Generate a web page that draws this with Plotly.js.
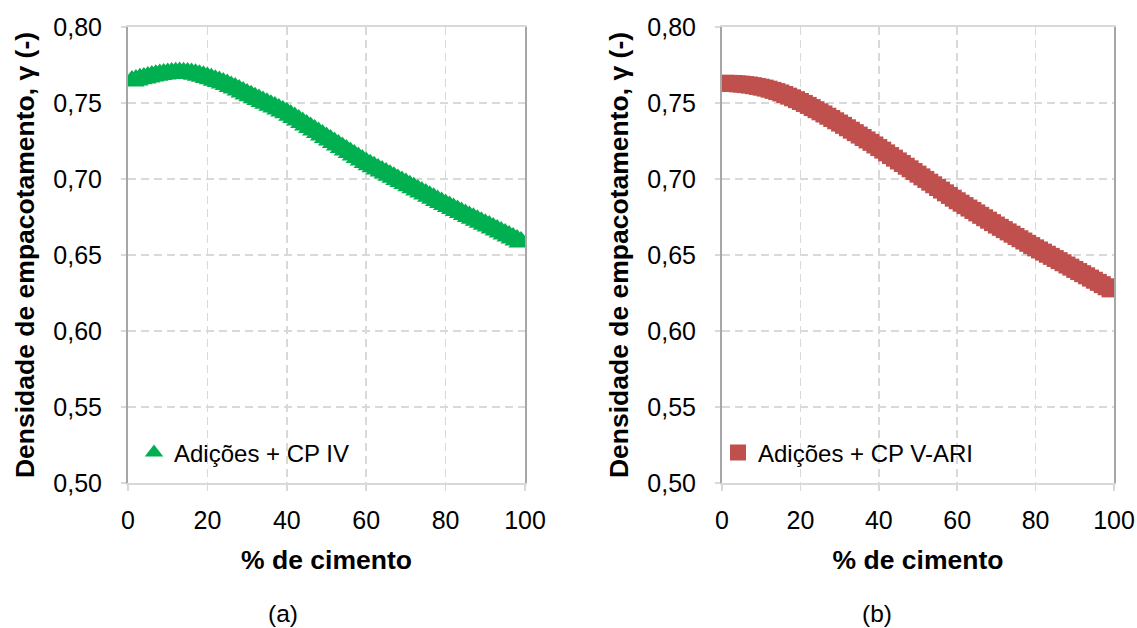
<!DOCTYPE html>
<html>
<head>
<meta charset="utf-8">
<script src="https://cdn.plot.ly/plotly-3.0.1.min.js"></script>
<style>html,body{margin:0;padding:0;background:#fff;}#chart{width:1137px;height:628px;}</style>
</head>
<body>
<div id="chart"></div>
<script>
// % de cimento (x positions of the points)
const cimento = [1,2,3,4,5,6,7,8,9,10,11,12,13,14,15,16,17,18,19,20,
  21,22,23,24,25,26,27,28,29,30,31,32,33,34,35,36,37,38,39,40,
  41,42,43,44,45,46,47,48,49,50,51,52,53,54,55,56,57,58,59,60,
  61,62,63,64,65,66,67,68,69,70,71,72,73,74,75,76,77,78,79,80,
  81,82,83,84,85,86,87,88,89,90,91,92,93,94,95,96,97,98,99];

// (a) Adições + CP IV
const densidadeCPIV = [0.7645,0.7652,0.7659,0.7665,0.7671,0.7677,0.7682,0.7687,0.7691,0.7694,
  0.7697,0.7699,0.7700,0.7699,0.7697,0.7694,0.7689,0.7683,0.7676,0.7667,
  0.7659,0.7650,0.7641,0.7631,0.7621,0.7609,0.7598,0.7586,0.7573,0.7560,
  0.7548,0.7535,0.7523,0.7510,0.7498,0.7486,0.7473,0.7461,0.7448,0.7436,
  0.7420,0.7404,0.7388,0.7372,0.7356,0.7339,0.7323,0.7306,0.7290,0.7273,
  0.7257,0.7240,0.7224,0.7207,0.7191,0.7174,0.7158,0.7141,0.7125,0.7108,
  0.7094,0.7080,0.7066,0.7053,0.7039,0.7025,0.7011,0.6997,0.6984,0.6970,
  0.6956,0.6942,0.6928,0.6915,0.6901,0.6887,0.6873,0.6859,0.6846,0.6832,
  0.6819,0.6806,0.6793,0.6780,0.6767,0.6754,0.6741,0.6728,0.6716,0.6703,
  0.6690,0.6677,0.6664,0.6651,0.6638,0.6625,0.6612,0.6599,0.6586];

// (b) Adições + CP V-ARI
const densidadeCPVARI = [0.7630,0.7629,0.7628,0.7626,0.7624,0.7621,0.7618,0.7614,0.7609,0.7604,
  0.7598,0.7591,0.7583,0.7575,0.7566,0.7556,0.7545,0.7534,0.7522,0.7510,
  0.7497,0.7484,0.7470,0.7456,0.7442,0.7428,0.7413,0.7398,0.7383,0.7368,
  0.7353,0.7337,0.7321,0.7305,0.7289,0.7273,0.7257,0.7241,0.7224,0.7207,
  0.7190,0.7172,0.7154,0.7137,0.7119,0.7102,0.7084,0.7067,0.7049,0.7032,
  0.7014,0.6997,0.6979,0.6962,0.6944,0.6927,0.6909,0.6892,0.6874,0.6857,
  0.6841,0.6825,0.6809,0.6793,0.6777,0.6761,0.6745,0.6729,0.6713,0.6697,
  0.6682,0.6667,0.6652,0.6637,0.6622,0.6607,0.6592,0.6577,0.6562,0.6547,
  0.6533,0.6519,0.6505,0.6491,0.6477,0.6463,0.6449,0.6434,0.6420,0.6405,
  0.6391,0.6377,0.6363,0.6348,0.6334,0.6320,0.6305,0.6291,0.6277];

const seriesNames = ['Adições + CP IV', 'Adições + CP V-ARI'];
const xTitle = '% de cimento';
const yTitle = 'Densidade de empacotamento, γ (-)';
const panelLabels = ['(a)', '(b)'];

const W = 1137, H = 628;
const FONT = 'Liberation Sans, Arial, Helvetica, sans-serif';

const traces = [
  {x: cimento, y: densidadeCPIV, type: 'scatter', mode: 'markers', name: seriesNames[0],
   xaxis: 'x', yaxis: 'y', legend: 'legend',
   marker: {symbol: 'triangle-up', size: 22, color: '#00B050', line: {width: 0}}},
  {x: cimento, y: densidadeCPVARI, type: 'scatter', mode: 'markers', name: seriesNames[1],
   xaxis: 'x2', yaxis: 'y2', legend: 'legend2',
   marker: {symbol: 'square', size: 17, color: '#C0504D', line: {width: 0}}}
];

function xAx(dom, anchor) {
  return {
    domain: dom, anchor: anchor, range: [0, 100], dtick: 20, tick0: 0,
    showgrid: true, gridcolor: '#d9d9d9', gridwidth: 1.5, griddash: '8px,5px',
    zeroline: false, showline: true, linecolor: '#d9d9d9', linewidth: 2, mirror: true,
    ticks: 'outside', ticklen: 6, tickwidth: 1.5, tickcolor: '#d9d9d9',
    ticklabelstandoff: 8,
    tickfont: {size: 25, color: '#000', family: FONT},
    title: {text: '<b>' + xTitle + '</b>', standoff: 17, font: {size: 26.5, color: '#000', family: FONT}},
    automargin: false, fixedrange: true
  };
}
function yAx(dom, anchor) {
  return {
    domain: dom, anchor: anchor, range: [0.5, 0.8], dtick: 0.05, tick0: 0.5, tickformat: '.2f',
    showgrid: true, gridcolor: '#d9d9d9', gridwidth: 1.5, griddash: '8px,5px',
    zeroline: false, showline: true, linecolor: '#a6a6a6', linewidth: 2, mirror: true,
    ticks: 'outside', ticklen: 5, tickwidth: 1.5, tickcolor: '#d9d9d9',
    ticklabelstandoff: 14,
    tickfont: {size: 25, color: '#000', family: FONT},
    title: {text: '<b>' + yTitle + '</b>', standoff: 11, font: {size: 26.5, color: '#000', family: FONT}},
    automargin: false, fixedrange: true
  };
}

const yDom = [145 / H, 601 / H];
const layout = {
  width: W, height: H,
  margin: {l: 0, r: 0, t: 0, b: 0},
  paper_bgcolor: '#ffffff', plot_bgcolor: '#ffffff',
  separators: ',.',
  font: {family: FONT, color: '#000'},
  showlegend: true,
  xaxis: xAx([128 / W, 525 / W], 'y'),
  yaxis: yAx(yDom, 'x'),
  xaxis2: xAx([722 / W, 1114 / W], 'y2'),
  yaxis2: yAx(yDom, 'x2'),
  legend: {x: 134 / W, y: (H - 453) / H, xanchor: 'left', yanchor: 'middle',
           bgcolor: 'rgba(0,0,0,0)', borderwidth: 0, font: {size: 24, color: '#000', family: FONT}},
  legend2: {x: 718 / W, y: (H - 453) / H, xanchor: 'left', yanchor: 'middle',
           bgcolor: 'rgba(0,0,0,0)', borderwidth: 0, font: {size: 24, color: '#000', family: FONT}},
  annotations: [
    {text: panelLabels[0], xref: 'paper', yref: 'paper', x: 283 / W, y: (H - 613) / H,
     xanchor: 'center', yanchor: 'middle', showarrow: false, font: {size: 24.5, color: '#000', family: FONT}},
    {text: panelLabels[1], xref: 'paper', yref: 'paper', x: 877 / W, y: (H - 613) / H,
     xanchor: 'center', yanchor: 'middle', showarrow: false, font: {size: 24.5, color: '#000', family: FONT}}
  ]
};

Plotly.newPlot('chart', traces, layout, {displayModeBar: false, staticPlot: true});
</script>
</body>
</html>
